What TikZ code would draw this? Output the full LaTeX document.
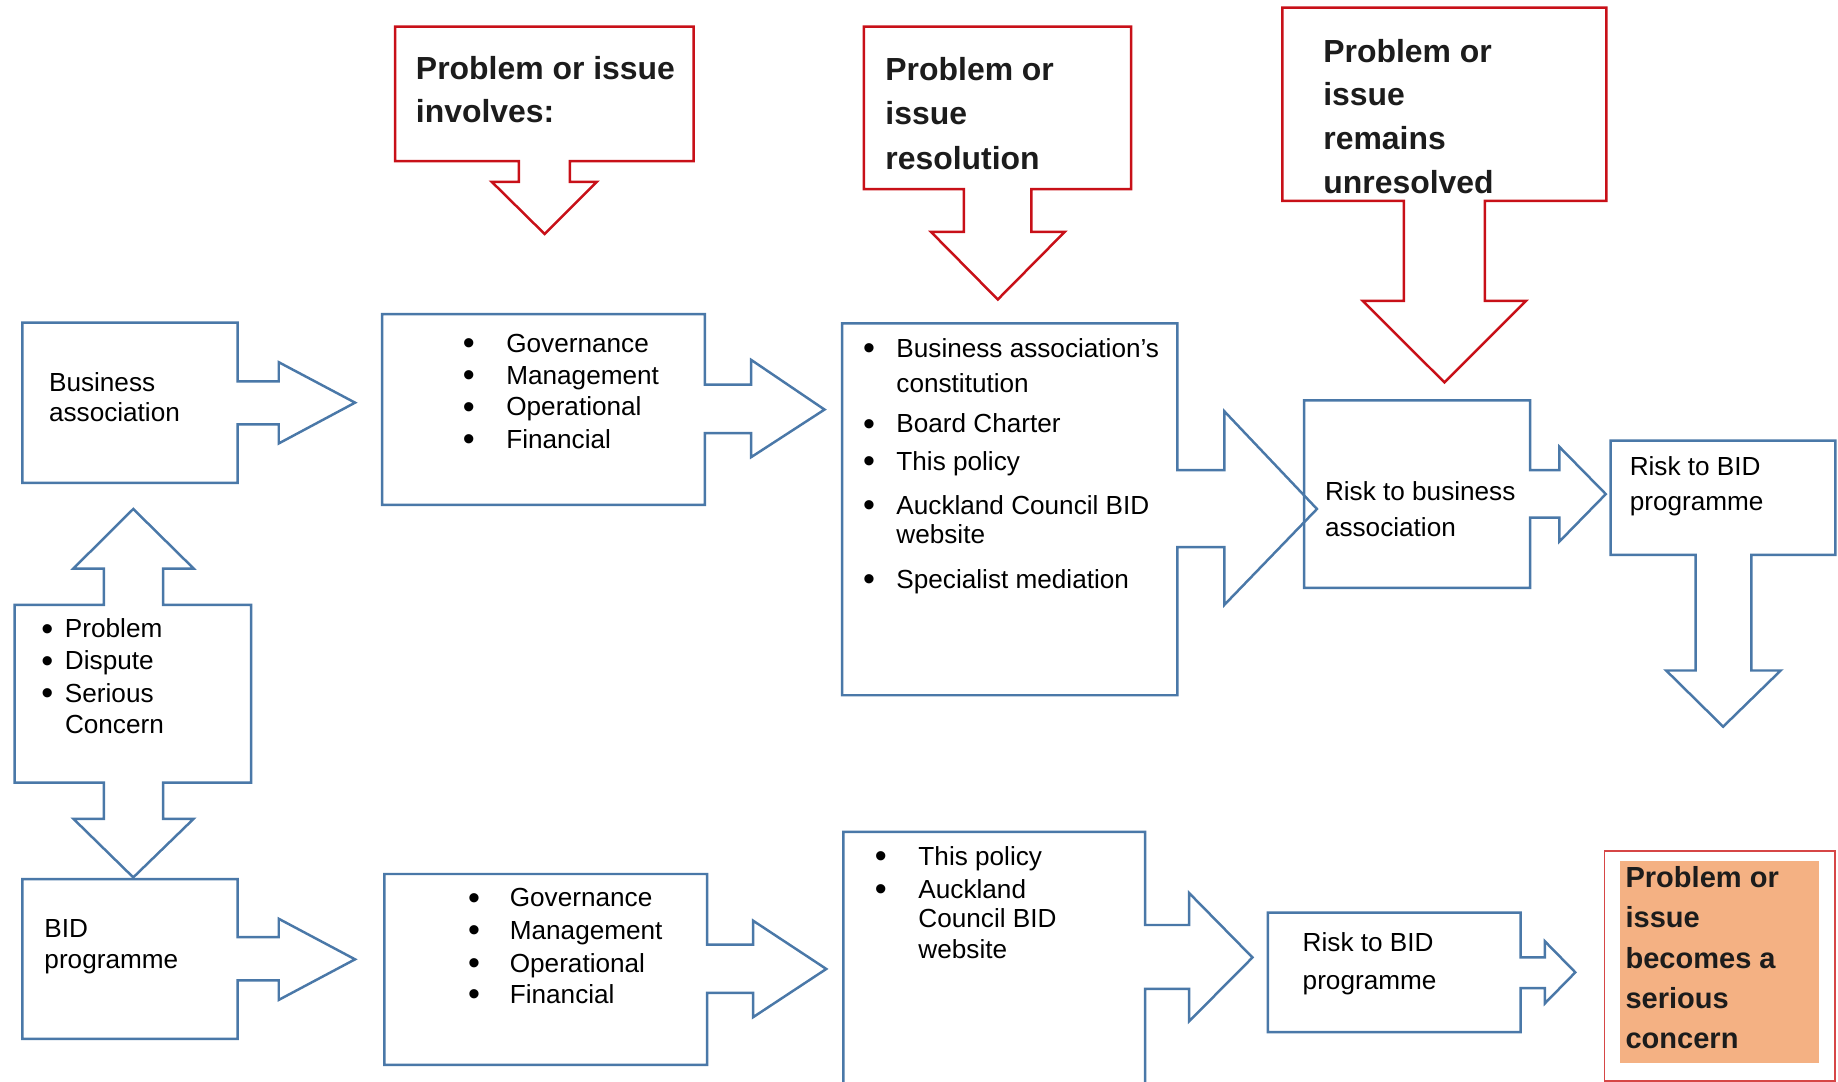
\documentclass[tikz,border=0pt]{standalone}
\usepackage{fontspec}
\setmainfont{Liberation Sans}
\definecolor{bidblue}{RGB}{74,120,168}
\definecolor{issuered}{RGB}{200,16,24}
\definecolor{softred}{RGB}{214,70,70}
\definecolor{concernfill}{RGB}{244,177,131}
\definecolor{inktext}{RGB}{28,28,28}
\tikzset{
  bluebox/.style={draw=bidblue, line width=1.2pt},
  redbox/.style={draw=issuered, line width=1.2pt},
  txt/.style={anchor=base west, inner sep=0pt, text=black, font=\fontsize{12.7}{15}\selectfont},
  ttl/.style={anchor=base west, inner sep=0pt, text=inktext, font=\fontsize{15.5}{18}\selectfont\bfseries},
  ttlsmall/.style={ttl, font=\fontsize{14.1}{17}\selectfont\bfseries},
}
\newcommand{\bul}[1]{\makebox[#1][l]{\raisebox{-0.09em}{\scalebox{1.3}{\textbullet}}}}

\begin{document}
\begin{tikzpicture}[x=0.02cm, y=-0.02cm]
        \useasboundingbox (0,0) rectangle (1568,923);
        % red callouts
        \draw[redbox] (337,22.7) -- (591.7,22.7) -- (591.7,137.5) -- (486.1,137.5) -- (486.1,155.1) -- (509.1,155.1) -- (464.6,199.6) -- (419.5,155.1) -- (442.6,155.1) -- (442.6,137.5) -- (337,137.5) -- cycle; % involves
        \draw[redbox] (737,22.7) -- (964.9,22.7) -- (964.9,161.3) -- (879.8,161.3) -- (879.8,197.8) -- (908.3,197.8) -- (851.2,255.5) -- (794.2,197.8) -- (822.2,197.8) -- (822.2,161.3) -- (737,161.3) -- cycle; % resolution
        \draw[redbox] (1094,6.5) -- (1370.4,6.5) -- (1370.4,171.3) -- (1266.8,171.3) -- (1266.8,256.7) -- (1301.8,256.7) -- (1232.2,326.2) -- (1162.6,256.7) -- (1197.7,256.7) -- (1197.7,171.3) -- (1094,171.3) -- cycle; % unresolved
        % top row
        \draw[bluebox] (19,275.2) -- (202.8,275.2) -- (202.8,325.3) -- (237.8,325.3) -- (237.8,309) -- (302.9,343.5) -- (237.8,378.3) -- (237.8,362) -- (202.8,362) -- (202.8,412) -- (19,412) -- cycle; % business association
        \draw[bluebox] (326,267.9) -- (601.3,267.9) -- (601.3,328.2) -- (640.8,328.2) -- (640.8,307) -- (703.4,349.4) -- (640.8,390) -- (640.8,369.4) -- (601.3,369.4) -- (601.3,430.7) -- (326,430.7) -- cycle; % involves list
        \draw[bluebox] (718.4,275.8) -- (1004.4,275.8) -- (1004.4,401) -- (1044.5,401) -- (1044.5,350.9) -- (1123.5,434.2) -- (1044.5,516) -- (1044.5,466.8) -- (1004.4,466.8) -- (1004.4,593.1) -- (718.4,593.1) -- cycle; % resolution list
        \draw[bluebox] (1112.6,341.5) -- (1305.3,341.5) -- (1305.3,401) -- (1330.3,401) -- (1330.3,381.2) -- (1369.9,421.5) -- (1330.3,462) -- (1330.3,441.6) -- (1305.3,441.6) -- (1305.3,501.5) -- (1112.6,501.5) -- cycle; % risk to BA
        \draw[bluebox] (1374,375.9) -- (1565.7,375.9) -- (1565.7,473.3) -- (1494,473.3) -- (1494,572) -- (1519.1,572) -- (1470,619.9) -- (1421.4,572) -- (1446.5,572) -- (1446.5,473.3) -- (1374,473.3) -- cycle; % risk to BID
        % double arrow
        \draw[bluebox] (12.5,516) -- (88.6,516) -- (88.6,485) -- (62.6,485) -- (113.7,434.2) -- (165.2,485) -- (139.2,485) -- (139.2,516) -- (214.3,516) -- (214.3,667.6) -- (139.2,667.6) -- (139.2,698.5) -- (165.2,698.5) -- (113.7,748.5) -- (62.6,698.5) -- (88.6,698.5) -- (88.6,667.6) -- (12.5,667.6) -- cycle;
        % bottom row
        \draw[bluebox] (19,750) -- (202.8,750) -- (202.8,799.5) -- (237.8,799.5) -- (237.8,783.8) -- (302.9,818.4) -- (237.8,853) -- (237.8,836.3) -- (202.8,836.3) -- (202.8,886.3) -- (19,886.3) -- cycle; % BID programme
        \draw[bluebox] (327.9,745.6) -- (603.3,745.6) -- (603.3,805.9) -- (642.4,805.9) -- (642.4,785.4) -- (704.9,826.6) -- (642.4,867.8) -- (642.4,847.1) -- (603.3,847.1) -- (603.3,908.4) -- (327.9,908.4) -- cycle; % involves list
        \draw[bluebox] (719.4,935) -- (719.4,709.7) -- (976.9,709.7) -- (976.9,789.1) -- (1014.4,789.1) -- (1014.4,761.8) -- (1068.5,816.8) -- (1014.4,871.3) -- (1014.4,843.6) -- (976.9,843.6) -- (976.9,935); % policy list
        \draw[bluebox] (1081.6,778.6) -- (1297.3,778.6) -- (1297.3,816.8) -- (1317.9,816.8) -- (1317.9,803) -- (1343.9,829.5) -- (1317.9,856) -- (1317.9,843) -- (1297.3,843) -- (1297.3,880.4) -- (1081.6,880.4) -- cycle; % risk to BID
        \draw[softred, line width=0.8pt] (1368.9,725.9) rectangle (1565.5,922);
        \fill[concernfill] (1382.3,734.5) rectangle (1551.7,907.2);
        % red titles
        \node[ttl] (inv1) at(354.5,67.7){Problem or issue};
        \node[ttl] (inv2) at(354.5,104.5){involves:};
        \node[ttl] (rsl1) at(755,69){Problem or};
        \node[ttl] (rsl2) at(755,106){issue};
        \node[ttl] (rsl3) at(755,144.3){resolution};
        \node[ttl] (unr1) at(1128.6,53){Problem or};
        \node[ttl] (unr2) at(1128.6,89.8){issue};
        \node[ttl] (unr3) at(1128.6,127.2){remains};
        \node[ttl] (unr4) at(1128.6,164.9){unresolved};
        % top row texts
        \node[txt] (ba1) at(41.5,334){Business};
        \node[txt] (ba2) at(41.5,359.7){association};
        \node[txt] (gova) at(394.5,300.3){\bul{0.742cm}Governance};
        \node[txt] (govb) at(394.5,327.6){\bul{0.742cm}Management};
        \node[txt] (govc) at(394.5,354.7){\bul{0.742cm}Operational};
        \node[txt] (govd) at(394.5,382.7){\bul{0.742cm}Financial};
        \node[txt] (res1) at(736,304.8){\bul{0.568cm}Business association’s};
        \node[txt] (res2) at(764.4,335){constitution};
        \node[txt] (res3) at(736,369.1){\bul{0.568cm}Board Charter};
        \node[txt] (res4) at(736,401){\bul{0.568cm}This policy};
        \node[txt] (res5) at(736,438.5){\bul{0.568cm}Auckland Council BID};
        \node[txt] (res6) at(764.4,464){website};
        \node[txt] (res7) at(736,501.9){\bul{0.568cm}Specialist mediation};
        \node[txt] (rba1) at(1130,426.8){Risk to business};
        \node[txt] (rba2) at(1130,457.7){association};
        \node[txt] (rbt1) at(1390,405.7){Risk to BID};
        \node[txt] (rbt2) at(1390,435.7){programme};
        % middle
        \node[txt] (pd1) at(35,544){\bul{0.402cm}Problem};
        \node[txt] (pd2) at(35,571.3){\bul{0.402cm}Dispute};
        \node[txt] (pd3) at(35,599.3){\bul{0.402cm}Serious};
        \node[txt] (pd4) at(55.1,625.8){Concern};
        % bottom row texts
        \node[txt] (bid1) at(37.6,800){BID};
        \node[txt] (bid2) at(37.6,826){programme};
        \node[txt] (gvba) at(399,773.6){\bul{0.712cm}Governance};
        \node[txt] (gvbb) at(399,801.5){\bul{0.712cm}Management};
        \node[txt] (gvbc) at(399,829.5){\bul{0.712cm}Operational};
        \node[txt] (gvbd) at(399,856){\bul{0.712cm}Financial};
        \node[txt] (pol1) at(746,738.3){\bul{0.744cm}This policy};
        \node[txt] (pol2) at(746,766.2){\bul{0.744cm}Auckland};
        \node[txt] (pol3) at(783.2,791.3){Council BID};
        \node[txt] (pol4) at(783.2,817.7){website};
        \node[txt] (rbb1) at(1111,811.8){Risk to BID};
        \node[txt] (rbb2) at(1111,844.2){programme};
        % serious concern
        \node[ttlsmall] (con1) at(1386.4,757.4){Problem or};
        \node[ttlsmall] (con2) at(1386.4,791.3){issue};
        \node[ttlsmall] (con3) at(1386.4,826.6){becomes a};
        \node[ttlsmall] (con4) at(1386.4,860.4){serious};
        \node[ttlsmall] (con5) at(1386.4,894.2){concern};
\end{tikzpicture}
\end{document}
